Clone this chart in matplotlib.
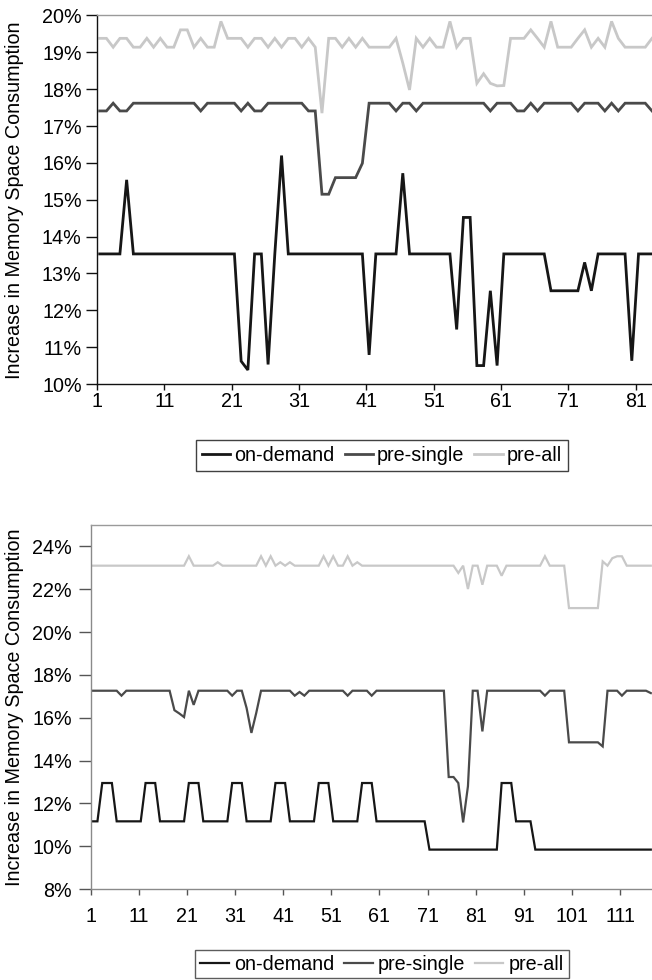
import numpy as np
import matplotlib
matplotlib.use("Agg")
import matplotlib.pyplot as plt

plt.rcParams['font.family'] = ['Liberation Sans', 'DejaVu Sans']

series_names = ["on-demand", "pre-single", "pre-all"]
colors = ["#161616", "#4a4a4a", "#c8c8c8"]

# ---- top chart (83 runs) ----
top_on_demand = [
    13.53, 13.53, 13.53, 13.53, 15.54, 13.53, 13.53, 13.53, 13.53, 13.53,
    13.53, 13.53, 13.53, 13.53, 13.53, 13.53, 13.53, 13.53, 13.53, 13.53,
    13.53, 10.62, 10.38, 13.53, 13.53, 10.53, 13.53, 16.20, 13.53, 13.53,
    13.53, 13.53, 13.53, 13.53, 13.53, 13.53, 13.53, 13.53, 13.53, 13.53,
    10.79, 13.53, 13.53, 13.53, 13.53, 15.72, 13.53, 13.53, 13.53, 13.53,
    13.53, 13.53, 13.53, 11.48, 14.52, 14.52, 10.50, 10.50, 12.53, 10.50,
    13.53, 13.53, 13.53, 13.53, 13.53, 13.53, 13.53, 12.53, 12.53, 12.53,
    12.53, 12.53, 13.30, 12.53, 13.53, 13.53, 13.53, 13.53, 13.53, 10.63,
    13.53, 13.53, 13.53,
]
top_pre_single = [
    17.41, 17.41, 17.62, 17.41, 17.41, 17.62, 17.62, 17.62, 17.62, 17.62,
    17.62, 17.62, 17.62, 17.62, 17.62, 17.41, 17.62, 17.62, 17.62, 17.62,
    17.62, 17.41, 17.62, 17.41, 17.41, 17.62, 17.62, 17.62, 17.62, 17.62,
    17.62, 17.41, 17.41, 15.15, 15.15, 15.60, 15.60, 15.60, 15.60, 15.99,
    17.62, 17.62, 17.62, 17.62, 17.41, 17.62, 17.62, 17.41, 17.62, 17.62,
    17.62, 17.62, 17.62, 17.62, 17.62, 17.62, 17.62, 17.62, 17.41, 17.62,
    17.62, 17.62, 17.41, 17.41, 17.62, 17.41, 17.62, 17.62, 17.62, 17.62,
    17.62, 17.41, 17.62, 17.62, 17.62, 17.41, 17.62, 17.41, 17.62, 17.62,
    17.62, 17.62, 17.41,
]
top_pre_all = [
    19.38, 19.38, 19.14, 19.38, 19.38, 19.14, 19.14, 19.38, 19.14, 19.38,
    19.14, 19.14, 19.61, 19.61, 19.14, 19.38, 19.14, 19.14, 19.84, 19.38,
    19.38, 19.38, 19.14, 19.38, 19.38, 19.14, 19.38, 19.14, 19.38, 19.38,
    19.14, 19.38, 19.14, 17.35, 19.38, 19.38, 19.14, 19.38, 19.14, 19.38,
    19.14, 19.14, 19.14, 19.14, 19.38, 18.71, 17.98, 19.38, 19.14, 19.38,
    19.14, 19.14, 19.84, 19.14, 19.38, 19.38, 18.16, 18.42, 18.16, 18.09,
    18.10, 19.38, 19.38, 19.38, 19.61, 19.38, 19.14, 19.84, 19.14, 19.14,
    19.14, 19.38, 19.61, 19.14, 19.38, 19.14, 19.84, 19.38, 19.14, 19.14,
    19.14, 19.14, 19.38,
]
top_yticks = [10, 11, 12, 13, 14, 15, 16, 17, 18, 19, 20]
top_xticks = [1, 11, 21, 31, 41, 51, 61, 71, 81]

# ---- bottom chart (117 runs) ----
bot_on_demand = [
    11.16, 11.16, 12.95, 12.95, 12.95, 11.16, 11.16, 11.16, 11.16, 11.16,
    11.16, 12.95, 12.95, 12.95, 11.16, 11.16, 11.16, 11.16, 11.16, 11.16,
    12.95, 12.95, 12.95, 11.16, 11.16, 11.16, 11.16, 11.16, 11.16, 12.95,
    12.95, 12.95, 11.16, 11.16, 11.16, 11.16, 11.16, 11.16, 12.95, 12.95,
    12.95, 11.16, 11.16, 11.16, 11.16, 11.16, 11.16, 12.95, 12.95, 12.95,
    11.16, 11.16, 11.16, 11.16, 11.16, 11.16, 12.95, 12.95, 12.95, 11.16,
    11.16, 11.16, 11.16, 11.16, 11.16, 11.16, 11.16, 11.16, 11.16, 11.16,
    9.84, 9.84, 9.84, 9.84, 9.84, 9.84, 9.84, 9.84, 9.84, 9.84,
    9.84, 9.84, 9.84, 9.84, 9.84, 12.95, 12.95, 12.95, 11.16, 11.16,
    11.16, 11.16, 9.84, 9.84, 9.84, 9.84, 9.84, 9.84, 9.84, 9.84,
    9.84, 9.84, 9.84, 9.84, 9.84, 9.84, 9.84, 9.84, 9.84, 9.84,
    9.84, 9.84, 9.84, 9.84, 9.84, 9.84, 9.84,
]
bot_pre_single = [
    17.26, 17.26, 17.26, 17.26, 17.26, 17.26, 17.03, 17.26, 17.26, 17.26,
    17.26, 17.26, 17.26, 17.26, 17.26, 17.26, 17.26, 16.35, 16.20, 16.03,
    17.26, 16.60, 17.26, 17.26, 17.26, 17.26, 17.26, 17.26, 17.26, 17.03,
    17.26, 17.26, 16.45, 15.29, 16.22, 17.26, 17.26, 17.26, 17.26, 17.26,
    17.26, 17.26, 17.03, 17.20, 17.03, 17.26, 17.26, 17.26, 17.26, 17.26,
    17.26, 17.26, 17.26, 17.03, 17.26, 17.26, 17.26, 17.26, 17.03, 17.26,
    17.26, 17.26, 17.26, 17.26, 17.26, 17.26, 17.26, 17.26, 17.26, 17.26,
    17.26, 17.26, 17.26, 17.26, 13.23, 13.23, 12.95, 11.11, 12.80, 17.26,
    17.26, 15.36, 17.26, 17.26, 17.26, 17.26, 17.26, 17.26, 17.26, 17.26,
    17.26, 17.26, 17.26, 17.26, 17.03, 17.26, 17.26, 17.26, 17.26, 14.85,
    14.85, 14.85, 14.85, 14.85, 14.85, 14.85, 14.66, 17.26, 17.26, 17.26,
    17.03, 17.26, 17.26, 17.26, 17.26, 17.26, 17.15,
]
bot_pre_all = [
    23.10, 23.10, 23.10, 23.10, 23.10, 23.10, 23.10, 23.10, 23.10, 23.10,
    23.10, 23.10, 23.10, 23.10, 23.10, 23.10, 23.10, 23.10, 23.10, 23.10,
    23.54, 23.10, 23.10, 23.10, 23.10, 23.10, 23.26, 23.10, 23.10, 23.10,
    23.10, 23.10, 23.10, 23.10, 23.10, 23.54, 23.10, 23.54, 23.10, 23.26,
    23.10, 23.26, 23.10, 23.10, 23.10, 23.10, 23.10, 23.10, 23.54, 23.10,
    23.54, 23.10, 23.10, 23.54, 23.10, 23.26, 23.10, 23.10, 23.10, 23.10,
    23.10, 23.10, 23.10, 23.10, 23.10, 23.10, 23.10, 23.10, 23.10, 23.10,
    23.10, 23.10, 23.10, 23.10, 23.10, 23.10, 22.76, 23.10, 22.01, 23.10,
    23.10, 22.21, 23.10, 23.10, 23.10, 22.63, 23.10, 23.10, 23.10, 23.10,
    23.10, 23.10, 23.10, 23.10, 23.54, 23.10, 23.10, 23.10, 23.10, 21.12,
    21.12, 21.12, 21.12, 21.12, 21.12, 21.12, 23.30, 23.10, 23.45, 23.54,
    23.54, 23.10, 23.10, 23.10, 23.10, 23.10, 23.10,
]
bot_yticks = [8, 10, 12, 14, 16, 18, 20, 22, 24]
bot_xticks = [1, 11, 21, 31, 41, 51, 61, 71, 81, 91, 101, 111]

ylabel = "Increase in Memory Space Consumption"
FS = 14.2

fig = plt.figure(figsize=(6.52, 9.8), dpi=100)
W, H = 652.0, 980.0


def make_axes(left, top, bottom):
    return fig.add_axes([left / W, (H - bottom) / H, (W - left) / W, (bottom - top) / H])


def style_axes(ax, spine_color, left_color, tick_color, ylen, ypad, xpad):
    ax.spines["right"].set_visible(False)
    ax.spines["top"].set_color("#9a9a9a")
    ax.spines["left"].set_color(left_color)
    ax.spines["bottom"].set_color(spine_color)
    for s in ax.spines.values():
        s.set_linewidth(1.0)
    ax.tick_params(axis="y", direction="out", length=ylen, width=1.0,
                   color=tick_color, pad=ypad, labelsize=FS)
    ax.tick_params(axis="x", direction="out", length=4.5, width=1.0,
                   color=tick_color, pad=xpad, labelsize=FS)


# top chart
ax1 = make_axes(97, 15.5, 384)
x1 = np.arange(1, len(top_on_demand) + 1) + 0.4
for vals, name, c in zip([top_on_demand, top_pre_single, top_pre_all], series_names, colors):
    ax1.plot(x1, vals, color=c, lw=2.0, label=name, solid_joinstyle="miter")
ax1.set_xlim(1, 83.4)
ax1.set_ylim(10, 20)
ax1.set_yticks(top_yticks)
ax1.set_yticklabels([f"{t}%" for t in top_yticks])
ax1.set_xticks(top_xticks)
ax1.set_xticklabels([str(t) for t in top_xticks])
style_axes(ax1, "#111111", "#111111", "#111111", 8, 3, 1.5)
ax1.set_ylabel(ylabel, fontsize=FS, va="center")
ax1.yaxis.set_label_coords((15 - 97) / (W - 97), 0.5)

leg1 = fig.legend(*ax1.get_legend_handles_labels(), loc="center", ncol=3,
                  bbox_to_anchor=(382 / W, (H - 455.5) / H), fontsize=FS,
                  frameon=True, fancybox=False, edgecolor="#111111",
                  handlelength=1.45, handletextpad=0.2, columnspacing=0.5,
                  borderpad=0.3)
leg1.get_frame().set_linewidth(1.0)

# bottom chart
ax2 = make_axes(90.7, 525, 889)
x2 = np.arange(1, len(bot_on_demand) + 1) + 0.4
for vals, name, c in zip([bot_on_demand, bot_pre_single, bot_pre_all], series_names, colors):
    ax2.plot(x2, vals, color=c, lw=1.6, label=name, solid_joinstyle="miter")
ax2.set_xlim(1, 117.65)
ax2.set_ylim(8, 25)
ax2.set_yticks(bot_yticks)
ax2.set_yticklabels([f"{t}%" for t in bot_yticks])
ax2.set_xticks(bot_xticks)
ax2.set_xticklabels([str(t) for t in bot_xticks])
style_axes(ax2, "#8a8a8a", "#8a8a8a", "#555555", 9, 4.5, 8.5)
ax2.set_ylabel(ylabel, fontsize=FS, va="center")
ax2.yaxis.set_label_coords((15 - 90.7) / (W - 90.7), 0.5)

leg2 = fig.legend(*ax2.get_legend_handles_labels(), loc="center", ncol=3,
                  bbox_to_anchor=(382 / W, (H - 964) / H), fontsize=FS,
                  frameon=True, fancybox=False, edgecolor="#333333",
                  handlelength=1.45, handletextpad=0.25, columnspacing=0.5,
                  borderpad=0.25)
leg2.get_frame().set_linewidth(1.0)

fig.savefig("out.png", dpi=100)
